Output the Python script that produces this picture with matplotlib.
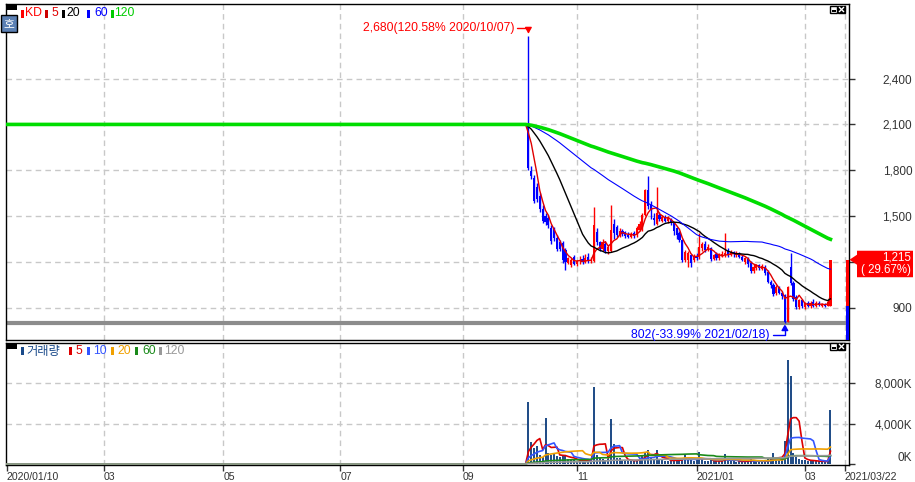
import numpy as np
import pandas as pd
import matplotlib
matplotlib.use('Agg')
import matplotlib.pyplot as plt
import matplotlib.transforms as mtransforms
from matplotlib.patches import Rectangle, Polygon

plt.rcParams['font.family'] = ['Liberation Sans', 'DejaVu Sans']
KR = ['Noto Sans CJK KR', 'DejaVu Sans']

# KRX calendar
holidays = ['2020-01-24', '2020-01-27', '2020-04-15', '2020-04-30', '2020-05-01', '2020-05-05',
            '2020-08-17', '2020-09-30', '2020-10-01', '2020-10-02', '2020-10-09', '2020-12-25',
            '2020-12-31', '2021-01-01', '2021-02-11', '2021-02-12', '2021-03-01']
start_date, end_date = '2020-01-10', '2021-03-22'
listing_date = '2020-10-07'
base_price = 2100  # flat reference price before listing

opens = [2110, 1795, 1750, 1690, 1630, 1550, 1500, 1490, 1425, 1420, 1360, 1330, 1325, 1280, 1195, 1182,
         1234, 1185, 1205, 1220, 1200, 1230, 1205, 1205, 1395, 1330, 1285, 1320, 1270, 1270, 1450, 1430,
         1375, 1405, 1395, 1380, 1365, 1390, 1375, 1410, 1420, 1505, 1670, 1570, 1490, 1450, 1510, 1470,
         1495, 1470, 1480, 1455, 1420, 1390, 1345, 1210, 1215, 1245, 1210, 1240, 1230, 1290, 1320, 1280,
         1290, 1220, 1250, 1225, 1240, 1245, 1270, 1245, 1265, 1245, 1255, 1235, 1200, 1220, 1195, 1140,
         1160, 1180, 1155, 1170, 1135, 1070, 1050, 995, 1035, 1000, 985, 810, 1170, 1060, 970, 905,
         950, 905, 930, 910, 940, 915, 935, 915, 925, 915, 915]
highs = [2680, 1830, 1770, 1720, 1650, 1570, 1520, 1510, 1440, 1430, 1380, 1345, 1340, 1290, 1235, 1225,
         1245, 1215, 1240, 1245, 1250, 1260, 1235, 1560, 1420, 1340, 1350, 1335, 1310, 1575, 1480, 1445,
         1420, 1415, 1405, 1395, 1395, 1400, 1435, 1470, 1520, 1680, 1760, 1600, 1520, 1690, 1530, 1505,
         1510, 1500, 1490, 1465, 1430, 1400, 1350, 1280, 1270, 1255, 1250, 1260, 1390, 1330, 1335, 1320,
         1300, 1255, 1265, 1260, 1270, 1390, 1290, 1280, 1275, 1270, 1265, 1245, 1235, 1230, 1205, 1185,
         1190, 1190, 1185, 1180, 1145, 1080, 1060, 1050, 1045, 1010, 990, 1040, 1260, 1075, 985, 960,
         960, 940, 945, 945, 960, 945, 945, 935, 935, 945, 1215]
lows = [1800, 1740, 1585, 1590, 1530, 1455, 1440, 1420, 1320, 1340, 1270, 1270, 1195, 1150, 1185, 1170,
        1180, 1175, 1190, 1190, 1195, 1195, 1195, 1200, 1310, 1270, 1275, 1260, 1255, 1265, 1350, 1365,
        1365, 1370, 1360, 1355, 1355, 1360, 1365, 1400, 1400, 1500, 1550, 1480, 1440, 1440, 1470, 1460,
        1460, 1455, 1440, 1380, 1350, 1330, 1200, 1200, 1165, 1165, 1200, 1215, 1220, 1270, 1265, 1270,
        1205, 1210, 1215, 1215, 1230, 1235, 1235, 1240, 1235, 1235, 1225, 1205, 1190, 1170, 1125, 1130,
        1150, 1150, 1145, 1115, 1060, 1030, 980, 985, 990, 960, 802, 805, 1050, 945, 895, 895,
        900, 895, 905, 900, 905, 905, 910, 905, 905, 910, 910]
closes = [1815, 1765, 1600, 1610, 1545, 1470, 1460, 1445, 1335, 1360, 1285, 1285, 1215, 1200, 1225, 1214,
          1190, 1205, 1215, 1200, 1225, 1205, 1215, 1445, 1330, 1285, 1330, 1275, 1300, 1410, 1390, 1380,
          1405, 1385, 1370, 1365, 1385, 1370, 1420, 1450, 1505, 1670, 1565, 1540, 1475, 1520, 1480, 1495,
          1470, 1490, 1455, 1400, 1380, 1345, 1215, 1265, 1260, 1195, 1240, 1225, 1300, 1320, 1280, 1300,
          1220, 1245, 1225, 1250, 1255, 1260, 1245, 1265, 1250, 1260, 1235, 1215, 1225, 1185, 1140, 1170,
          1180, 1160, 1175, 1130, 1070, 1050, 990, 1035, 1000, 975, 810, 1035, 1065, 960, 905, 950,
          910, 930, 915, 935, 915, 930, 920, 925, 915, 937, 1215]
volumes = [6160, 2200, 1550, 1800, 900, 700, 4600, 1100, 890, 1000, 800, 700, 900, 800, 500, 400,
           450, 300, 250, 350, 300, 400, 250, 7640, 890, 600, 450, 400, 500, 4510, 2000, 600,
           600, 400, 350, 300, 350, 300, 400, 600, 800, 1200, 1400, 700, 500, 1380, 450, 350,
           300, 300, 350, 450, 400, 350, 550, 990, 450, 350, 300, 350, 1150, 450, 300, 300,
           400, 250, 250, 300, 300, 990, 350, 300, 250, 200, 300, 250, 300, 300, 450, 300,
           250, 200, 250, 350, 500, 450, 1050, 600, 500, 700, 2270, 10270, 8700, 1050, 700, 500,
           400, 350, 300, 300, 350, 250, 250, 200, 250, 300, 5330]  # thousand shares

tick_months = ['2020-03', '2020-05', '2020-07', '2020-09', '2020-11', '2021-01', '2021-03']
tick_labels = ['2020/01/10', '03', '05', '07', '09', '11', '2021/01', '03', '2021/03/22']
price_ticks = [900, 1200, 1500, 1800, 2100, 2400]
volume_ticks = [0, 4000, 8000]

price_ma = [(5, '#e00000', 1.0), (20, '#000000', 1.0), (60, '#0000ff', 0.8), (120, '#00dd00', 2.6)]
volume_ma = [(5, '#dd0000', 1.2), (10, '#3355ff', 1.2), (20, '#f0a000', 1.2), (60, '#1a8a1a', 1.2),
             (120, '#999999', 1.2)]

UP, DOWN, VOLC, GRID, LBL = '#ff0000', '#0000ff', '#0b3b7c', '#c8c8c8', '#333333'

days = pd.bdate_range(start_date, end_date)
days = days[~days.isin(pd.to_datetime(holidays))]
first = days.get_loc(pd.Timestamp(listing_date))
o, h, l, c = (np.array(a, dtype=float) for a in (opens, highs, lows, closes))
v = np.array(volumes, dtype=float)
x = np.arange(first, first + len(c))

W, H = 915, 482
fig = plt.figure(figsize=(W / 100, H / 100), dpi=100)
pix = mtransforms.Affine2D().scale(1, -1).translate(0, H)


def box(left, top, right, bottom):
    return [left / W, 1 - bottom / H, (right - left) / W, (bottom - top) / H]


ax = fig.add_axes(box(5.5, 3.5, 849, 340))
axv = fig.add_axes(box(5.5, 342.5, 849, 465), sharex=ax)

# candles
col = np.where(c >= o, UP, DOWN)
ax.vlines(x, l, h, colors=col, lw=1, zorder=3)
body = np.maximum(np.abs(c - o), 6)
ax.bar(x, body, bottom=np.minimum(o, c), width=0.75, color=col, zorder=3, linewidth=0)

# moving averages (price before listing held at reference price)
close_full = pd.Series(np.r_[np.full(first, base_price), c])
vol_full = pd.Series(np.r_[np.zeros(first), v])
xf = np.arange(len(close_full))
for w, colr, lw in price_ma:
    ax.plot(xf, close_full.rolling(w, min_periods=1).mean(), color=colr, lw=lw, zorder=5 if w == 120 else 4)

ax.axhline(l.min(), color='#8c8c8c', lw=3, zorder=2)

# current candle bar at the right edge
ax.bar(len(days) - 0.1, c[-1] - o[-1], bottom=o[-1], width=1.15, color=UP, zorder=6, clip_on=False)
ax.bar(len(days) - 0.1, o[-1] - 690, bottom=690, width=1.15, color=DOWN, zorder=6, clip_on=False)

# volume
axv.vlines(x, 0, v, colors=VOLC, lw=1.3, zorder=3)
for w, colr, lw in volume_ma:
    axv.plot(xf, vol_full.rolling(w, min_periods=1).mean(), color=colr, lw=lw, zorder=4)

# axes cosmetics
tick_idx = [0] + [int(days.searchsorted(pd.Timestamp(m + '-01'))) for m in tick_months] + [len(days) - 1]
ax.set_xlim(-0.5, len(days) + 0.5)
ax.set_ylim(690, 2891)
axv.set_ylim(-100, 12050)
for a in (ax, axv):
    for t in tick_idx[1:]:
        a.axvline(t, color=GRID, lw=1, ls=(0, (4, 3)), zorder=1)
    a.yaxis.tick_right()
    a.tick_params(axis='y', direction='out', length=4.5, width=1, pad=41, labelsize=8.5, colors=LBL)
    for s in a.spines.values():
        s.set_linewidth(1)
for p in price_ticks:
    ax.axhline(p, color=GRID, lw=1, ls=(0, (4, 3)), zorder=1)
for p in volume_ticks[1:]:
    axv.axhline(p, color=GRID, lw=1, ls=(0, (4, 3)), zorder=1)

last, prev = c[-1], c[-2]
ax.set_yticks(price_ticks)
# the tick nearest the current price sits under the price flag
near = min(price_ticks, key=lambda p: abs(p - last))
ax.set_yticklabels(['' if p == near else f'{p:,}' for p in price_ticks])
axv.set_yticks(volume_ticks)
axv.set_yticklabels([f'{p:,}K' for p in volume_ticks])
for lab in ax.get_yticklabels() + axv.get_yticklabels():
    lab.set_ha('right')
axv.get_yticklabels()[0].set_va('bottom')
ax.tick_params(axis='x', bottom=False, labelbottom=False)
axv.set_xticks(tick_idx)
axv.set_xticklabels(tick_labels)
axv.tick_params(axis='x', direction='out', length=4.5, width=1, pad=0.5, labelsize=7.6, colors=LBL)
for lab in axv.get_xticklabels():
    lab.set_ha('left')

# high / low annotations
k_hi, k_lo = int(np.argmax(h)), int(np.argmin(l))
hi, lo = h[k_hi], l[k_lo]
pt = 0.72
ax.annotate(f'{hi:,.0f}({(hi / last - 1) * 100:.2f}% {days[x[k_hi]]:%Y/%m/%d})', xy=(x[k_hi], hi),
            xytext=(-14 * pt, 8 * pt), textcoords='offset points', ha='right', va='center',
            color='#ff0000', fontsize=8.8, zorder=7)
ax.annotate('', xy=(x[k_hi], hi), xytext=(-11.5 * pt, 8 * pt), textcoords='offset points',
            arrowprops=dict(arrowstyle='-|>,head_length=0.35,head_width=0.2', color='#ff0000', lw=1,
                            shrinkA=0, shrinkB=1.5, connectionstyle='angle,angleA=0,angleB=90,rad=0'))
ax.annotate(f'{lo:,.0f}({(lo / last - 1) * 100:.2f}% {days[x[k_lo]]:%Y/%m/%d})', xy=(x[k_lo], lo),
            xytext=(-15.5 * pt, -12 * pt), textcoords='offset points', ha='right', va='center',
            color='#0000ff', fontsize=8.8, zorder=7)
ax.annotate('', xy=(x[k_lo], lo), xytext=(-12 * pt, -12 * pt), textcoords='offset points',
            arrowprops=dict(arrowstyle='-|>,head_length=0.35,head_width=0.2', color='#0000ff', lw=1,
                            shrinkA=0, shrinkB=1, connectionstyle='angle,angleA=0,angleB=90,rad=0'))

# current price flag
ay = H - ax.transData.transform((0, last))[1]
fig.add_artist(Polygon([(849.5, ay), (857, ay - 5), (857, ay - 9), (913, ay - 9), (913, ay + 17.5),
                        (857, ay + 17.5), (857, ay + 5)], closed=True, transform=pix, fc='#ff0000', ec='none'))
fig.text(911, ay - 2.5, f'{last:,.0f}', transform=pix, ha='right', va='center', color='white', fontsize=8.3)
fig.text(911, ay + 10.5, f'( {(last / prev - 1) * 100:.2f}%)', transform=pix, ha='right', va='center',
         color='white', fontsize=8.3)


# legends
def legend_row(y, items, size=8.8):
    for xm, xt, label, mcol, tcol, fam in items:
        fig.add_artist(Rectangle((xm, y - 4), 2.5, 8, transform=pix, fc=mcol, ec='none'))
        fig.text(xt, y, label, transform=pix, ha='left', va='center', color=tcol, fontsize=size, family=fam)


fig.add_artist(Rectangle((7, 5), 10, 5, transform=pix, fc='black', ec='none'))
legend_row(13.5, [(21, 24.5, 'KD', '#ff0000', '#ff0000', None),
                  (45, 51, '5', '#cc0000', '#e00000', None),
                  (62, 66, '20', '#000000', '#000000', None),
                  (87, 94, '60', '#0000ff', '#0000ff', None),
                  (111, 114, '120', '#00cc00', '#00cc00', None)])
fig.add_artist(Rectangle((7, 344), 10, 5, transform=pix, fc='black', ec='none'))
legend_row(351, [(21, 26, '거래량', '#1a4a8a', '#1a4a8a', KR),
                 (69, 75, '5', '#dd0000', '#dd0000', None),
                 (87, 93, '10', '#3355ff', '#3355ff', None),
                 (111, 117, '20', '#f0a000', '#f0a000', None),
                 (135, 142, '60', '#1a8a1a', '#1a8a1a', None),
                 (159, 164, '120', '#999999', '#999999', None)])

fig.add_artist(Rectangle((1, 15), 16, 17, transform=pix, fc='#5b80b4', ec='black', lw=1))
fig.text(9, 23.5, '호', transform=pix, ha='center', va='center', color='white', fontsize=8.5, family=KR)

for yi in (6, 343):
    fig.add_artist(Rectangle((830, yi), 7, 7, transform=pix, fc='white', ec='black', lw=1))
    fig.add_artist(Rectangle((831.5, yi + 3.5), 4, 2, transform=pix, fc='black', ec='none'))
    fig.add_artist(Rectangle((838, yi), 7, 7, transform=pix, fc='black', ec='black', lw=1))
    fig.add_artist(plt.Line2D([839.5, 843.5], [yi + 1.5, yi + 5.5], transform=pix, color='white', lw=1))
    fig.add_artist(plt.Line2D([839.5, 843.5], [yi + 5.5, yi + 1.5], transform=pix, color='white', lw=1))

fig.savefig('out.png', dpi=100, facecolor='white')
